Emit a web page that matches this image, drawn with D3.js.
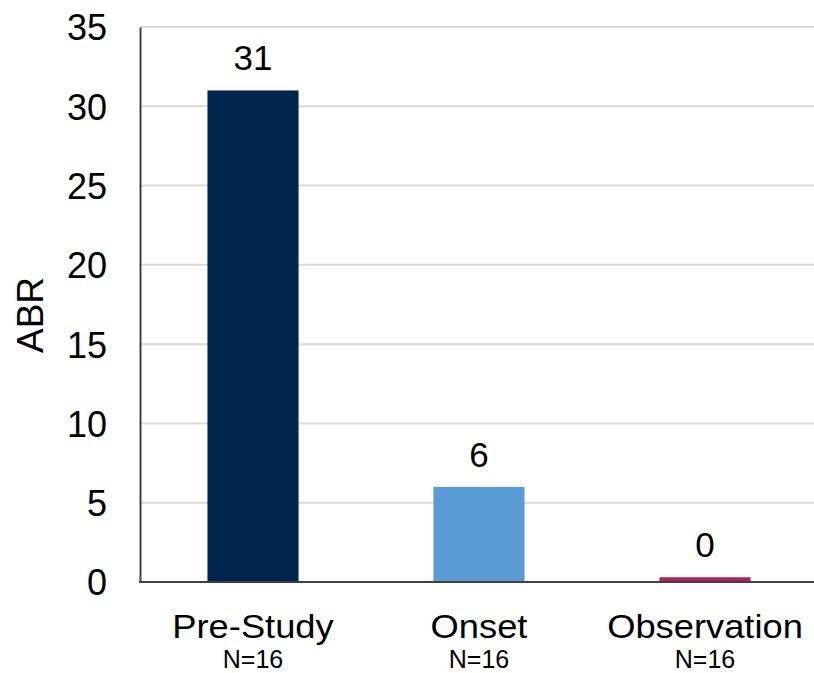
<!DOCTYPE html>
<html>
<head>
<meta charset="utf-8">
<script src="https://cdn.jsdelivr.net/npm/d3@7"></script>
<style>
  html, body { margin: 0; padding: 0; background: #fff; }
  svg { display: block; }
  text { font-family: "Liberation Sans", Arial, sans-serif; fill: #000; }
</style>
</head>
<body>
<svg id="chart" width="814" height="673"></svg>
<script>
// Annualized bleeding rate by study period
const categories = ["Pre-Study", "Onset", "Observation"];
const subLabels = ["N=16", "N=16", "N=16"];
const abr = [31, 6, 0.3];
const barColors = ["#00264D", "#5B9BD5", "#B01F62"];
const yTicks = [0, 5, 10, 15, 20, 25, 30, 35];

const width = 814, height = 673;
const margin = { top: 27, right: 0, bottom: 91, left: 140 };

const svg = d3.select("#chart");

const x = d3.scaleBand()
  .domain(categories)
  .range([margin.left, 818])
  .paddingInner(0.597)
  .paddingOuter(0.2985);

const y = d3.scaleLinear()
  .domain([0, 35])
  .range([height - margin.bottom, margin.top]);

// Horizontal gridlines
svg.append("g")
  .selectAll("line")
  .data(yTicks.filter(d => d > 0))
  .join("line")
  .attr("x1", margin.left)
  .attr("x2", width)
  .attr("y1", d => y(d))
  .attr("y2", d => y(d))
  .attr("stroke", "#d9d9d9")
  .attr("stroke-width", 2);

// Bars
svg.append("g")
  .selectAll("rect")
  .data(categories)
  .join("rect")
  .attr("x", d => x(d))
  .attr("width", x.bandwidth())
  .attr("y", (d, i) => y(abr[i]))
  .attr("height", (d, i) => y(0) - y(abr[i]))
  .attr("fill", (d, i) => barColors[i]);

// Y axis
const yAxis = svg.append("g")
  .attr("transform", `translate(${margin.left},0)`)
  .call(d3.axisLeft(y).tickValues(yTicks).tickSize(0).tickPadding(33));
yAxis.select(".domain").attr("stroke", "#404040").attr("stroke-width", 2);
yAxis.selectAll(".tick text")
  .attr("font-size", 36)
  .attr("dy", "0.36em")
  .style("fill", "#000");

// Baseline
svg.append("line")
  .attr("x1", margin.left - 1)
  .attr("x2", width)
  .attr("y1", y(0))
  .attr("y2", y(0))
  .attr("stroke", "#404040")
  .attr("stroke-width", 2);

// Category labels
const catLabels = svg.append("g")
  .selectAll("g")
  .data(categories)
  .join("g")
  .attr("transform", d => `translate(${x(d) + x.bandwidth() / 2},0)`);

catLabels.append("text")
  .attr("y", 638)
  .attr("text-anchor", "middle")
  .attr("font-size", 33)
  .attr("transform", "scale(1.1,1)")
  .text(d => d);

catLabels.append("text")
  .attr("y", 668)
  .attr("text-anchor", "middle")
  .attr("font-size", 25)
  .text((d, i) => subLabels[i]);

// Value labels
const fmt = d3.format(".0f");
svg.append("g")
  .selectAll("text")
  .data(categories)
  .join("text")
  .attr("x", d => x(d) + x.bandwidth() / 2)
  .attr("y", (d, i) => Math.min(y(abr[i]) - 20, y(0) - 18))
  .attr("text-anchor", "middle")
  .attr("font-size", 35)
  .text((d, i) => fmt(abr[i]));

// Y axis title
svg.append("text")
  .attr("transform", "translate(43,315) rotate(-90)")
  .attr("text-anchor", "middle")
  .attr("font-size", 37)
  .text("ABR");
</script>
</body>
</html>
